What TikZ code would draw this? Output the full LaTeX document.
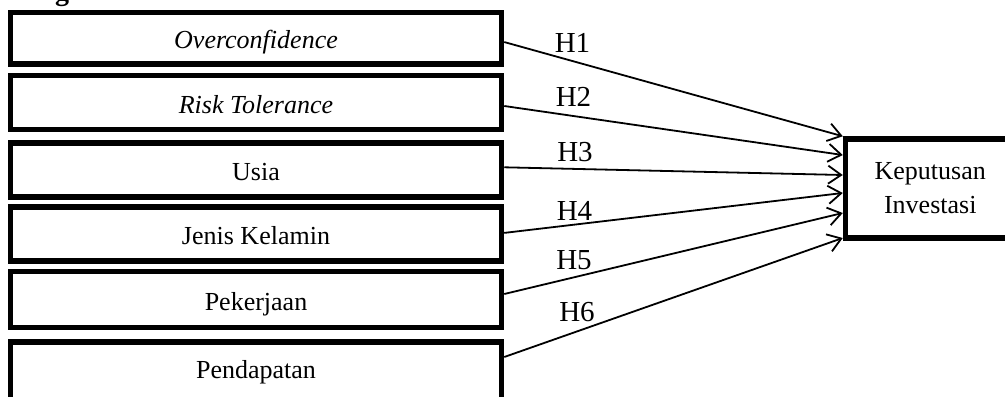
\documentclass[tikz,border=0pt]{standalone}
\usepackage{fontspec}
\setmainfont{Liberation Serif}
\usetikzlibrary{arrows.meta}

\begin{document}
\begin{tikzpicture}[x=0.5pt,y=-0.5pt]
    \tikzstyle{every node}+=[inner sep=0pt]
    \tikzstyle{faktor}=[draw=black, line width=2.75pt, minimum width=245.5pt, minimum height=27pt, text height=10.5pt, text depth=0pt, font=\fontsize{13}{15}\selectfont]
    \tikzstyle{hipo}=[font=\fontsize{14.5}{17}\selectfont]
    \tikzstyle{panah}=[line width=0.9pt, -{Straight Barb[length=6.5pt,width=9pt]}]
    \useasboundingbox (0,0) rectangle (1005,396);
    \draw (62,1) node [anchor=base, font=\fontsize{14}{16}\selectfont\bfseries] (judul) {g};
    \draw (256,38.25) node [faktor, minimum height=25.75pt] (oc) {\textit{Overconfidence}};
    \draw (256,102.5) node [faktor] (rt) {\textit{Risk Tolerance}};
    \draw (256,169.8) node [faktor] (usia) {Usia};
    \draw (256,233.9) node [faktor] (jk) {Jenis Kelamin};
    \draw (256,299.7) node [faktor, minimum height=28pt] (pk) {Pekerjaan};
    \draw (256,372) node [faktor, minimum height=30pt, text height=6pt] (pd) {Pendapatan};
    \draw (930.25,188.5) node [faktor, minimum width=84.75pt, minimum height=49.5pt, text height=, text depth=, align=center, font=\fontsize{13}{17}\selectfont] (kep) {Keputusan\\Investasi};
    \draw [panah] ([yshift=-1.9pt]oc.east) -- (kep.north west);
    \draw (572.5,43) node [hipo] (h1) {H1};
    \draw [panah] ([yshift=-1.75pt]rt.east) -- ([yshift=16.75pt]kep.west);
    \draw (573.5,97) node [hipo] (h2) {H2};
    \draw [panah] ([yshift=1.25pt]usia.east) -- ([yshift=6.75pt]kep.west);
    \draw (575,152) node [hipo] (h3) {H3};
    \draw [panah] ([yshift=0.5pt]jk.east) -- ([yshift=-2.25pt]kep.west);
    \draw (574.5,211) node [hipo] (h4) {H4};
    \draw [panah] ([yshift=2.85pt]pk.east) -- ([yshift=-12.25pt]kep.west);
    \draw (574,260.5) node [hipo] (h5) {H5};
    \draw [panah] ([yshift=7.5pt]pd.east) -- ([yshift=-24.75pt]kep.west);
    \draw (577,312.5) node [hipo] (h6) {H6};
\end{tikzpicture}
\end{document}
